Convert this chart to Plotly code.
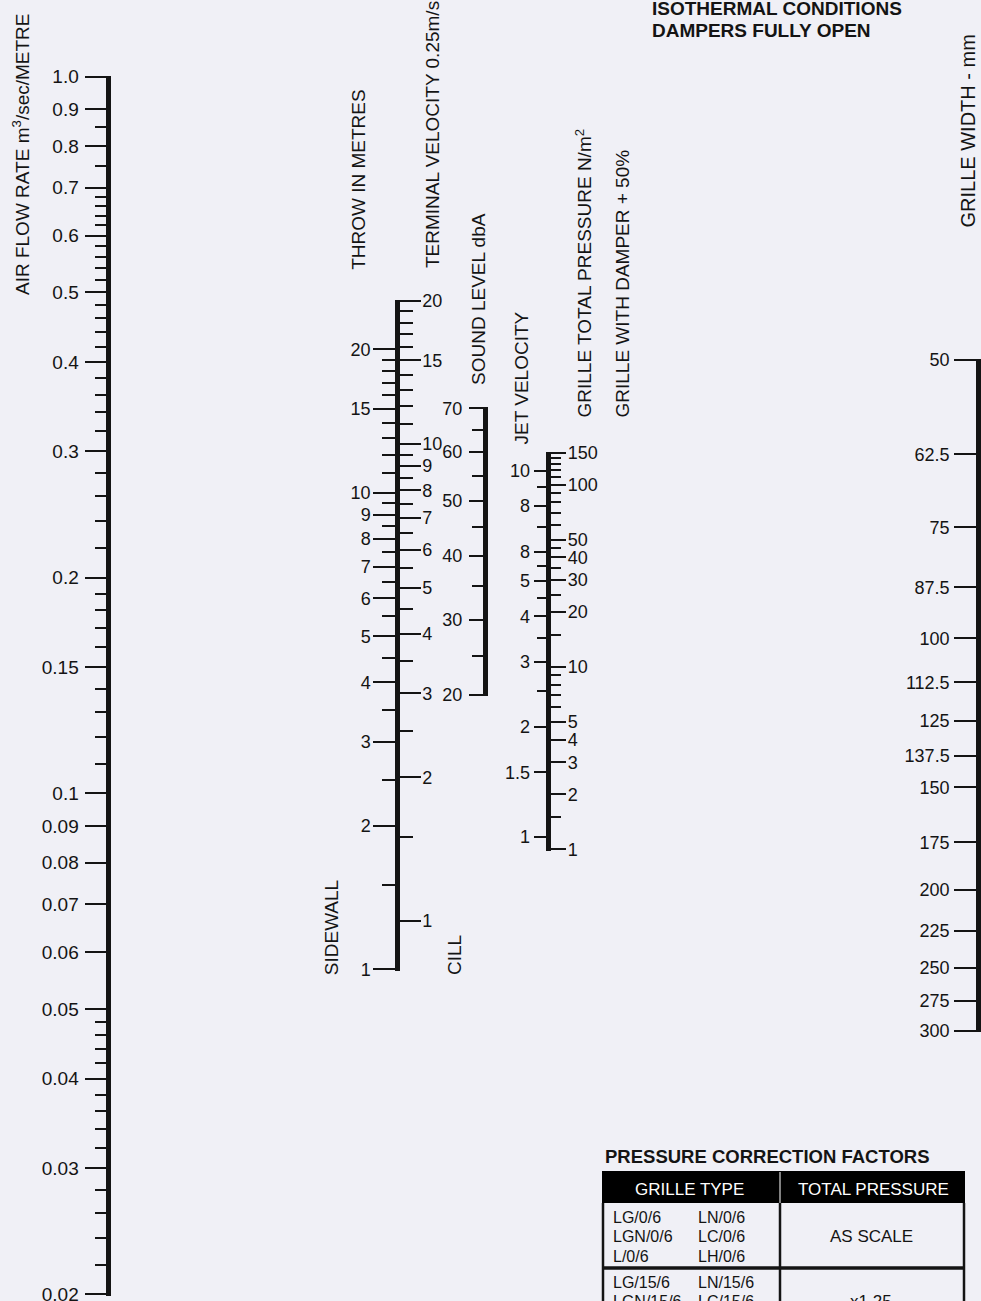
import numpy as np
import plotly.graph_objects as go

W, H = 981, 1301
BG = "#f0f0f6"
INK = "#141414"
FONT = "Liberation Sans, Arial, Helvetica, sans-serif"

# ---- scale data ----
airflow = [1.0, 0.9, 0.8, 0.7, 0.6, 0.5, 0.4, 0.3, 0.2, 0.15, 0.1, 0.09, 0.08,
           0.07, 0.06, 0.05, 0.04, 0.03, 0.02]
airflow_text = ["1.0", "0.9", "0.8", "0.7", "0.6", "0.5", "0.4", "0.3", "0.2", "0.15",
                "0.1", "0.09", "0.08", "0.07", "0.06", "0.05", "0.04", "0.03", "0.02"]
airflow_minor = [0.85, 0.75, 0.68, 0.66, 0.64, 0.62, 0.58, 0.56, 0.54, 0.52,
                 0.48, 0.46, 0.44, 0.42, 0.38, 0.36, 0.34, 0.32, 0.28, 0.26, 0.24, 0.22,
                 0.19, 0.18, 0.17, 0.16, 0.14, 0.13, 0.12, 0.11,
                 0.048, 0.046, 0.044, 0.042, 0.038, 0.036, 0.034, 0.032,
                 0.028, 0.026, 0.024, 0.022]

throw_sidewall = [20, 15, 10, 9, 8, 7, 6, 5, 4, 3, 2, 1]
throw_sidewall_minor = [19, 18, 17, 16, 14, 13, 12, 11, 9.5, 8.5, 7.5, 6.5, 5.5,
                        4.5, 3.5, 2.5, 1.5]
throw_cill = [20, 15, 10, 9, 8, 7, 6, 5, 4, 3, 2, 1]
throw_cill_minor = [19, 18, 17, 16, 14, 13, 12, 11, 9.5, 8.5, 7.5, 6.5, 5.5,
                    4.5, 3.5, 2.5, 1.5]

sound_level = [70, 60, 50, 40, 30, 20]
sound_level_minor = [65, 55, 45, 35, 25]

jet_velocity = [10, 8, 6, 5, 4, 3, 2, 1.5, 1]
jet_velocity_text = ["10", "8", "8", "5", "4", "3", "2", "1.5", "1"]
jet_velocity_minor = [9, 7, 5.5, 4.5, 3.5, 2.5]

pressure = [150, 100, 50, 40, 30, 20, 10, 5, 4, 3, 2, 1]
pressure_minor = [140, 130, 120, 110, 90, 80, 70, 60, 45, 35, 25, 15,
                  9, 8, 7, 6, 1.5]

grille_width = [50, 62.5, 75, 87.5, 100, 112.5, 125, 137.5, 150, 175, 200, 225,
                250, 275, 300]

table_header = ["GRILLE TYPE", "TOTAL PRESSURE"]
grille_types_a = [["LG/0/6", "LGN/0/6", "L/0/6"], ["LG/15/6", "LGN/15/6", "L/15/6"]]
grille_types_b = [["LN/0/6", "LC/0/6", "LH/0/6"], ["LN/15/6", "LC/15/6", "LH/15/6"]]
pressure_factor = ["AS SCALE", "x1.25"]


def px(x):
    return x / W


def py(y):
    return 1 - y / H


def lbl(v):
    return ("%g" % v)


# each scale: values, labels, minor ticks, transform, two calibration points
# (value, pixel row), line x, line extent, side and tick lengths
scales = [
    dict(vals=airflow, text=airflow_text, minor=airflow_minor, f=lambda v: v,
         cal=((1.0, 76.7), (0.02, 1294.3)), x=108.3, top=75.5, bot=1295.5,
         side="left", tl=22, ml=12, so=2, fs=19),
    dict(vals=throw_sidewall, text=[lbl(v) for v in throw_sidewall], minor=throw_sidewall_minor,
         f=lambda v: v, cal=((20, 349.3), (1, 969.3)), x=397, top=299.5, bot=970.5,
         side="left", tl=22, ml=13, so=-1, fs=18),
    dict(vals=throw_cill, text=[lbl(v) for v in throw_cill], minor=throw_cill_minor,
         f=lambda v: v, cal=((20, 300.7), (1, 920.7)), x=397, top=299.5, bot=970.5,
         side="right", tl=21, ml=13, so=-2, fs=18),
    # sound level scale runs roughly as log(dBA + 30)
    dict(vals=sound_level, text=[lbl(v) for v in sound_level], minor=sound_level_minor,
         f=lambda v: v + 30, cal=((70, 408.3), (20, 695)), x=484.7, top=407, bot=696,
         side="left", tl=14, ml=11, so=3, fs=18),
    dict(vals=jet_velocity, text=jet_velocity_text, minor=jet_velocity_minor,
         f=lambda v: v, cal=((10, 470.7), (1, 836.7)), x=548.3, top=451.5, bot=850.5,
         side="left", tl=13, ml=10, so=0, fs=18),
    dict(vals=pressure, text=[lbl(v) for v in pressure], minor=pressure_minor,
         f=lambda v: v, cal=((150, 452.7), (1, 849.3)), x=548.3, top=451.5, bot=850.5,
         side="right", tl=15, ml=10, so=-2, fs=18),
    # grille width scale runs roughly as log(width - 12 mm)
    dict(vals=grille_width, text=[lbl(v) for v in grille_width], minor=[],
         f=lambda v: v - 12, cal=((50, 360), (300, 1031)), x=978, top=359, bot=1032,
         side="left", tl=22, ml=0, so=1, fs=18),
]

fig = go.Figure()
layout_axes = {}
for i, s in enumerate(scales):
    n = "" if i == 0 else str(i + 1)
    (v1, p1), (v2, p2) = s["cal"]
    l1, l2 = np.log10(s["f"](v1)), np.log10(s["f"](v2))
    k = (l1 - l2) / (p2 - p1)
    r_top = l1 + (p1 - s["top"]) * k
    r_bot = l1 - (s["bot"] - p1) * k
    tv = [s["f"](v) for v in s["vals"]]
    mv = [s["f"](v) for v in s["minor"]]
    fig.add_trace(go.Scatter(x=[0.5] * len(tv), y=tv, xaxis="x", yaxis="y" + n,
                             mode="markers", marker=dict(opacity=0),
                             hoverinfo="skip", showlegend=False))
    ax = dict(type="log", range=[r_bot, r_top], domain=[py(s["bot"]), py(s["top"])],
              anchor="free", position=px(s["x"]), side=s["side"],
              showline=True, linewidth=4.5, linecolor=INK,
              ticks="outside", ticklen=s["tl"], tickwidth=2.3, tickcolor=INK,
              tickmode="array", tickvals=tv, ticktext=s["text"],
              tickfont=dict(family=FONT, size=s["fs"], color=INK),
              ticklabelstandoff=s["so"], ticklabeloverflow="allow",
              automargin=False,
              showgrid=False, zeroline=False, fixedrange=True)
    if mv:
        ax["minor"] = dict(tickmode="array", tickvals=mv, ticks="outside",
                           ticklen=s["ml"], tickwidth=2.3, tickcolor=INK, showgrid=False)
    layout_axes["yaxis" + n] = ax

fig.update_layout(**layout_axes)
fig.update_layout(xaxis=dict(domain=[0, 1], range=[0, 1], visible=False,
                             fixedrange=True, automargin=False))


# ---- rotated scale titles ----
def vtitle(text, xc, ybot, size=19):
    return dict(text=text, x=px(xc), y=py(ybot), xref="paper", yref="paper",
                xanchor="center", yanchor="bottom", textangle=-90, showarrow=False,
                font=dict(family=FONT, size=size, color=INK))


def htext(text, x, y, size, anchor="left", bold=False, color=INK):
    if bold:
        text = "<b>" + text + "</b>"
    return dict(text=text, x=px(x), y=py(y), xref="paper", yref="paper",
                xanchor=anchor, yanchor="middle", showarrow=False,
                font=dict(family=FONT, size=size, color=color))


ann = [
    vtitle("AIR FLOW RATE m<sup>3</sup>/sec/METRE", 21, 297),
    vtitle("THROW IN METRES", 358.3, 272),
    vtitle("TERMINAL VELOCITY 0.25m/s", 432.5, 270),
    vtitle("SOUND LEVEL dbA", 478, 387),
    vtitle("JET VELOCITY", 521, 447),
    vtitle("GRILLE TOTAL PRESSURE N/m<sup>2</sup>", 584, 420),
    vtitle("GRILLE WITH DAMPER + 50%", 622.5, 420),
    vtitle("GRILLE WIDTH - mm", 967, 230, size=20),
    vtitle("SIDEWALL", 331.7, 977),
    vtitle("CILL", 454, 977),
    htext("ISOTHERMAL CONDITIONS", 650, 9, 19, bold=True),
    htext("DAMPERS FULLY OPEN", 650, 30, 19, bold=True),
    htext("PRESSURE CORRECTION FACTORS", 603, 1156, 18.5, bold=True),
    htext(table_header[0], 689, 1189, 17, anchor="center", color="white"),
    htext(table_header[1], 873, 1189, 17, anchor="center", color="white"),
]

# ---- pressure correction table ----
row_top = [1203, 1268]
for r in range(2):
    for j in range(3):
        yy = row_top[r] + 14 + 19.5 * j
        ann.append(htext(grille_types_a[r][j], 611, yy, 16))
        ann.append(htext(grille_types_b[r][j], 696, yy, 16))
    ann.append(htext(pressure_factor[r], 871, row_top[r] + 33.5, 17, anchor="center"))

shapes = [
    dict(type="rect", x0=px(602), x1=px(965), y0=py(1171), y1=py(1203),
         fillcolor="black", line=dict(width=0)),
    dict(type="line", x0=px(780), x1=px(780), y0=py(1172), y1=py(1203),
         line=dict(color="#d8d8d8", width=1.2)),
]
for xx in [603, 780, 964]:
    shapes.append(dict(type="line", x0=px(xx), x1=px(xx), y0=py(1203), y1=py(1330),
                       line=dict(color=INK, width=2.5)))
shapes.append(dict(type="line", x0=px(602), x1=px(965), y0=py(1268), y1=py(1268),
                   line=dict(color=INK, width=3.5)))
for s in shapes:
    s.update(xref="paper", yref="paper")

fig.update_layout(
    width=W, height=H, margin=dict(l=0, r=0, t=0, b=0, pad=0, autoexpand=False),
    paper_bgcolor=BG, plot_bgcolor="rgba(0,0,0,0)",
    showlegend=False, annotations=ann, shapes=shapes,
    font=dict(family=FONT, color=INK),
)

fig.write_html("out.html", config={"displayModeBar": False},
               post_script="document.body.style.margin='0';")
